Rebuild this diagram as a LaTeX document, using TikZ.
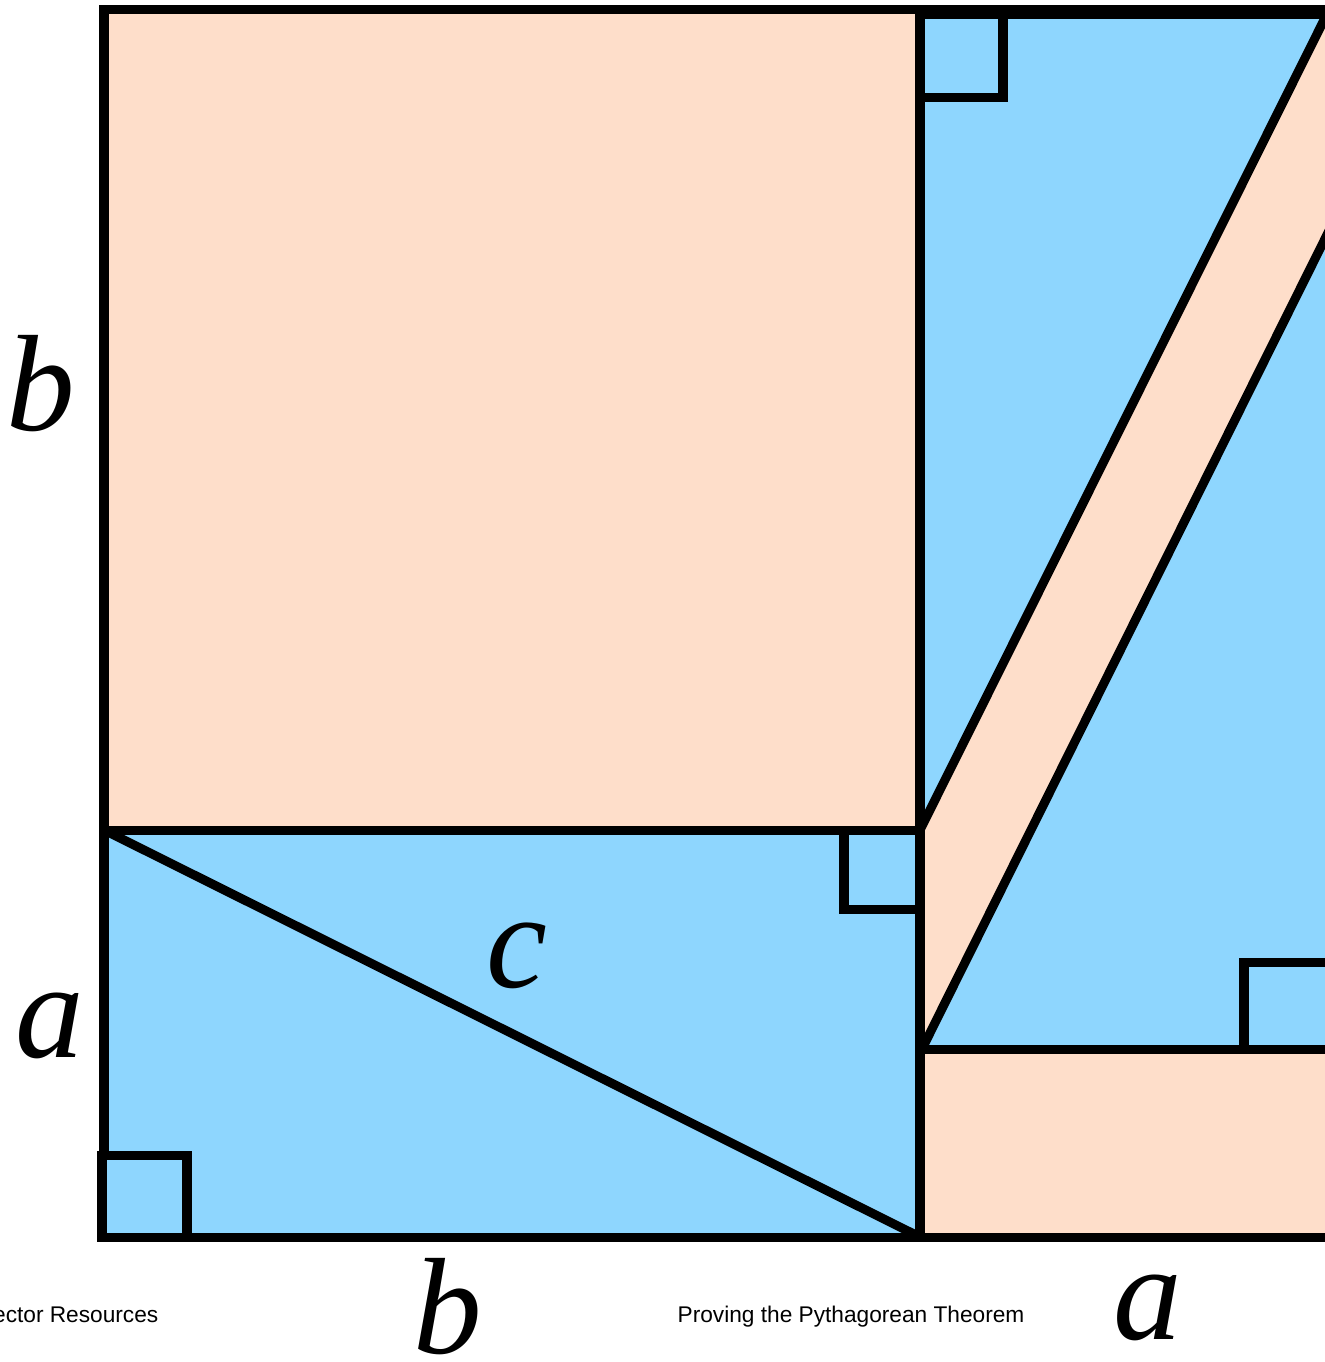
\documentclass[tikz,border=0pt]{standalone}
\usepackage{fontspec}
\setmainfont{Liberation Serif}
\newfontfamily\notefont{Liberation Sans}
\usepackage{tikz}
\usetikzlibrary{positioning, calc}
\definecolor{peachfill}{RGB}{254,222,202}
\definecolor{skyfill}{RGB}{142,214,254}
\tikzstyle{edge} = [draw=black, line width=2.56pt]
\tikzstyle{peach} = [fill=peachfill]
\tikzstyle{sky} = [fill=skyfill]
\tikzstyle{rightmark} = [edge, fill=skyfill]
\tikzstyle{sidelabel} = [anchor=base, inner sep=0pt, font=\fontsize{39}{39}\selectfont\itshape]
\tikzstyle{note} = [inner sep=0pt, font=\notefont\fontsize{6.45}{7}\selectfont]

\begin{document}
\begin{tikzpicture}[x=0.01cm, y=-0.01cm]
  \useasboundingbox (0,0) rectangle (1325,1362);
  % corners
  \coordinate (sqTL) at (104,9);
  \coordinate (sqBR) at (920,830);
  \coordinate (sqBL) at (104,830);
  \coordinate (triB) at (920,1237);
  \coordinate (bandTop) at (1327,14);
  \coordinate (bandLow) at (922,1049);
  \coordinate (bandEnd) at (1400,88);

  % fills
  \fill[peach] (sqTL) rectangle (sqBR);
  \fill[sky] (sqBL) rectangle (triB);
  \fill[sky] (920,12) rectangle (1400,1049);
  \fill[peach] (sqBR) -- (bandTop) -- (1400,12) -- (bandEnd) -- (bandLow) -- cycle;
  \fill[peach] (bandLow) rectangle (1400,1237);

  % outlines
  \draw[edge] (sqTL) rectangle (sqBR);
  \draw[edge] (sqBL) rectangle (triB);
  \draw[edge] (sqBL) -- (triB);
  \draw[edge] (920,9) -- (triB);
  \draw[edge] (sqBR) -- (bandTop);
  \draw[edge] (bandLow) -- (bandEnd);
  \draw[edge] (bandLow) -- (1400,1049);
  \draw[edge] (triB) -- (1400,1237);

  % right angle marks
  \draw[rightmark] (102,1155) rectangle (187,1237);
  \draw[rightmark] (844,830) rectangle (920,909);
  \draw[rightmark] (920,14) rectangle (1003,97);
  \draw[rightmark] (1244,962) rectangle (1336,1049);
  \draw[black, line width=4pt] (916,12) -- (1400,12);

  % labels
  \node[sidelabel] (bLeft) at (41,430) {b};
  \node[sidelabel] (aLeft) at (50,1057) {a};
  \node[sidelabel] (cHyp) at (517,987) {c};
  \node[sidelabel] (bBottom) at (448,1353) {b};
  \node[sidelabel] (aBottom) at (1148,1339) {a};

  \node[note, anchor=base east] (resNote) at (159,1322) {ector Resources};
  \node[note, anchor=base west] (titleNote) at (677,1322) {Proving the Pythagorean Theorem};
\end{tikzpicture}
\end{document}
